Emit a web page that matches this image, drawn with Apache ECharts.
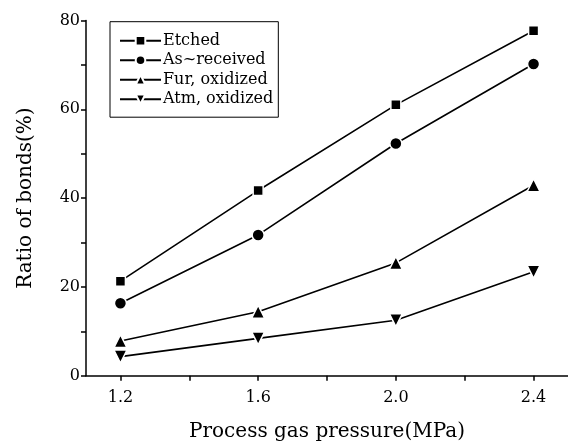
<!DOCTYPE html>
<html>
<head>
<meta charset="utf-8">
<script src="https://cdn.jsdelivr.net/npm/echarts@6/dist/echarts.min.js"></script>
<style>
	html, body { margin: 0; padding: 0; background: #fff; }
	#main { width: 568px; height: 444px; }
</style>
</head>
<body>
<div id="main"></div>
<script>
// data
var pressure = [1.2, 1.6, 2.0, 2.4];
var etched = [21.3, 41.7, 61.0, 77.7];
var asReceived = [16.3, 31.7, 52.3, 70.2];
var furOxidized = [7.8, 14.4, 25.4, 42.9];
var atmOxidized = [4.3, 8.4, 12.5, 23.4];
var seriesNames = ['Etched', 'As~received', 'Fur, oxidized', 'Atm, oxidized'];
var xLabels = ['1.2', '1.6', '2.0', '2.4'];

var serif = 'DejaVu Serif';

function pairs(ys) {
	return pressure.map(function(x, i) {
		return [x, ys[i]];
	});
}

function makeSeries(name, ys, symbol, size) {
	return {
		name: name,
		type: 'line',
		data: pairs(ys),
		symbol: symbol,
		symbolSize: size,
		showAllSymbol: true,
		lineStyle: {
			color: '#000',
			width: 1.6
		},
		itemStyle: {
			color: '#000',
			borderColor: '#fff',
			borderWidth: 1.5
		},
		emphasis: { disabled: true },
		animation: false
	};
}

var chart = echarts.init(document.getElementById('main'), null, { renderer: 'canvas' });
chart.setOption({
	backgroundColor: '#fff',
	animation: false,
	grid: {
		left: 86,
		right: 0,
		top: 20.5,
		bottom: 68.3,
		containLabel: false,
		outerBoundsMode: 'none'
	},
	legend: {
		orient: 'vertical',
		left: 110,
		top: 21.7,
		itemWidth: 41,
		itemHeight: 12,
		itemGap: 3.5,
		padding: [11, 5, 10, 9],
		borderColor: '#000',
		borderWidth: 1,
		data: seriesNames,
		textStyle: {
			fontFamily: serif,
			fontSize: 16,
			color: '#000',
			padding: [0, 0, 0, -3]
		}
	},
	xAxis: {
		type: 'value',
		min: 1.1,
		max: 2.5,
		splitNumber: 7,
		splitLine: { show: false },
		axisLine: { lineStyle: { color: '#000', width: 1.5 } },
		axisTick: {
			show: true,
			inside: false,
			length: 5,
			lineStyle: { color: '#000', width: 1.5 }
		},
		axisLabel: {
			fontFamily: serif,
			fontSize: 16,
			color: '#000',
			margin: 14,
			showMinLabel: false,
			showMaxLabel: false,
			formatter: function(v) {
				var s = v.toFixed(1);
				return xLabels.indexOf(s) >= 0 ? s : '';
			}
		},
		name: 'Process gas pressure(MPa)',
		nameLocation: 'middle',
		nameGap: 46,
		nameTextStyle: {
			fontFamily: serif,
			fontSize: 20,
			color: '#000'
		}
	},
	yAxis: {
		type: 'value',
		min: 0,
		max: 80,
		interval: 20,
		splitLine: { show: false },
		axisLine: { lineStyle: { color: '#000', width: 1.5 } },
		axisTick: {
			show: true,
			inside: false,
			length: 5,
			lineStyle: { color: '#000', width: 1.5 }
		},
		minorTick: {
			show: true,
			splitNumber: 2,
			length: 5,
			lineStyle: { color: '#000', width: 1.5 }
		},
		axisLabel: {
			fontFamily: serif,
			fontSize: 16,
			color: '#000',
			margin: 6
		},
		name: 'Ratio of bonds(%)',
		nameLocation: 'middle',
		nameGap: 50,
		nameTextStyle: {
			fontFamily: serif,
			fontSize: 20,
			color: '#000'
		}
	},
	series: [
		makeSeries(seriesNames[0], etched, 'rect', 10),
		makeSeries(seriesNames[1], asReceived, 'circle', 12),
		makeSeries(seriesNames[2], furOxidized, 'triangle', 13),
		makeSeries(seriesNames[3], atmOxidized, 'path://M0,0 L10,0 L5,9 Z', 13)
	]
});
</script>
</body>
</html>
